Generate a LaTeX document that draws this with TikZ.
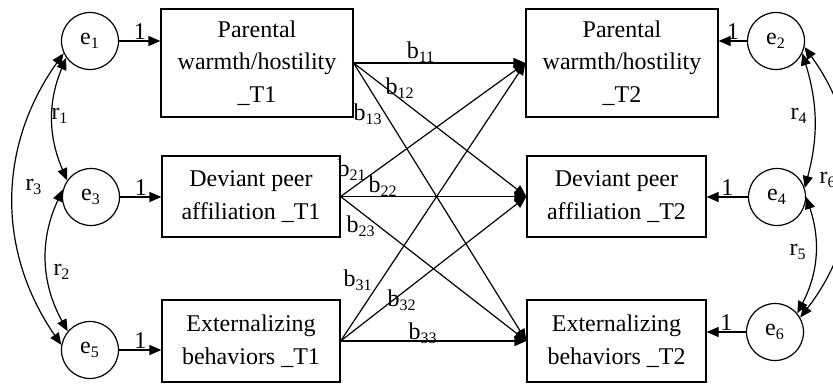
\documentclass[tikz,border=0pt]{standalone}
\usepackage{fontspec}
\setmainfont{Liberation Serif}
\usetikzlibrary{arrows.meta}

\tikzset{
  varbox/.style={draw, rectangle, align=center, inner sep=2pt},
  errnode/.style={draw, circle, minimum size=28.5pt, inner sep=0pt},
  covarc/.style={<->},
}

\begin{document}
\begin{tikzpicture}[x=0.5pt, y=-0.5pt, >={Triangle[length=6pt,width=5pt]},
    line width=0.6pt, font=\fontsize{12}{16.25}\selectfont]

        \useasboundingbox (0,0) rectangle (833,385);

        % ====================
        % 1. Observed variables, T1 and T2
        % ====================
        \node[varbox, minimum width=96pt, minimum height=54pt] (pw1) at (257,63) {Parental\\warmth/hostility\\\_T1};
        \node[varbox, minimum width=89pt, minimum height=40.5pt] (dp1) at (251,196.5) {Deviant peer\\affiliation \_T1};
        \node[varbox, minimum width=89pt, minimum height=41pt] (eb1) at (251,341) {Externalizing\\behaviors \_T1};

        \node[varbox, minimum width=96pt, minimum height=54pt] (pw2) at (622,63) {Parental\\warmth/hostility\\\_T2};
        \node[varbox, minimum width=89.5pt, minimum height=40.5pt] (dp2) at (616.5,196.5) {Deviant peer\\affiliation \_T2};
        \node[varbox, minimum width=89.5pt, minimum height=41pt] (eb2) at (616.5,341) {Externalizing\\behaviors \_T2};

        % ====================
        % 2. Residuals
        % ====================
        \node[errnode] (e1) at (90,41) {e\textsubscript{1}};
        \node[errnode] (e3) at (91,197) {e\textsubscript{3}};
        \node[errnode] (e5) at (90,350) {e\textsubscript{5}};
        \node[errnode] (e2) at (776,41) {e\textsubscript{2}};
        \node[errnode] (e4) at (777,197) {e\textsubscript{4}};
        \node[errnode] (e6) at (775,332) {e\textsubscript{6}};

        \foreach \e/\v in {e1/pw1, e3/dp1, e5/eb1} {
            \draw[->] (\e.east) -- (\e.east -| \v.west) node[midway, above, inner sep=0.5pt] (one\e) {1};
        }
        \foreach \e/\v in {e2/pw2, e4/dp2, e6/eb2} {
            \draw[->] (\e.west) -- (\e.west -| \v.east) node[midway, above, inner sep=0.5pt] (one\e) {1};
        }

        % ====================
        % 3. Cross-lagged paths
        % ====================
        \foreach \s in {pw1, dp1, eb1} {
            \foreach \t in {pw2, dp2, eb2} {
                \draw[->] (\s.east) -- (\t.west);
            }
        }

        % path labels b_ij
        \foreach \i/\x/\y in {11/421/52, 12/400/88, 13/368/114,
                              21/352/170, 22/383/186, 23/361/226,
                              31/358/280, 32/402/300, 33/423/333} {
            \node[inner sep=0pt] (b\i) at (\x,\y) {b\textsubscript{\i}};
        }

        % ====================
        % 4. Residual covariances
        % ====================
        \draw[covarc] (e1.215) to[bend right=23] (e3.145);
        \draw[covarc] (e3.165) to[bend right=27] (e5.140);
        \draw[covarc] (e1.205) to[bend right=35] (e5.170);
        \draw[covarc] (e2.-25) to[bend left=16] (e4.18);
        \draw[covarc] (e4.0) to[bend left=23] (e6.40);
        \draw[covarc] (e2.-12) to[bend left=37] (e6.30);

        \node (r1) at (60,116) {r\textsubscript{1}};
        \node (r2) at (62,272) {r\textsubscript{2}};
        \node (r3) at (34,187) {r\textsubscript{3}};
        \node (r4) at (799,116) {r\textsubscript{4}};
        \node (r5) at (798,252) {r\textsubscript{5}};
        \node (r6) at (828,180) {r\textsubscript{6}};

    \end{tikzpicture}
\end{document}
